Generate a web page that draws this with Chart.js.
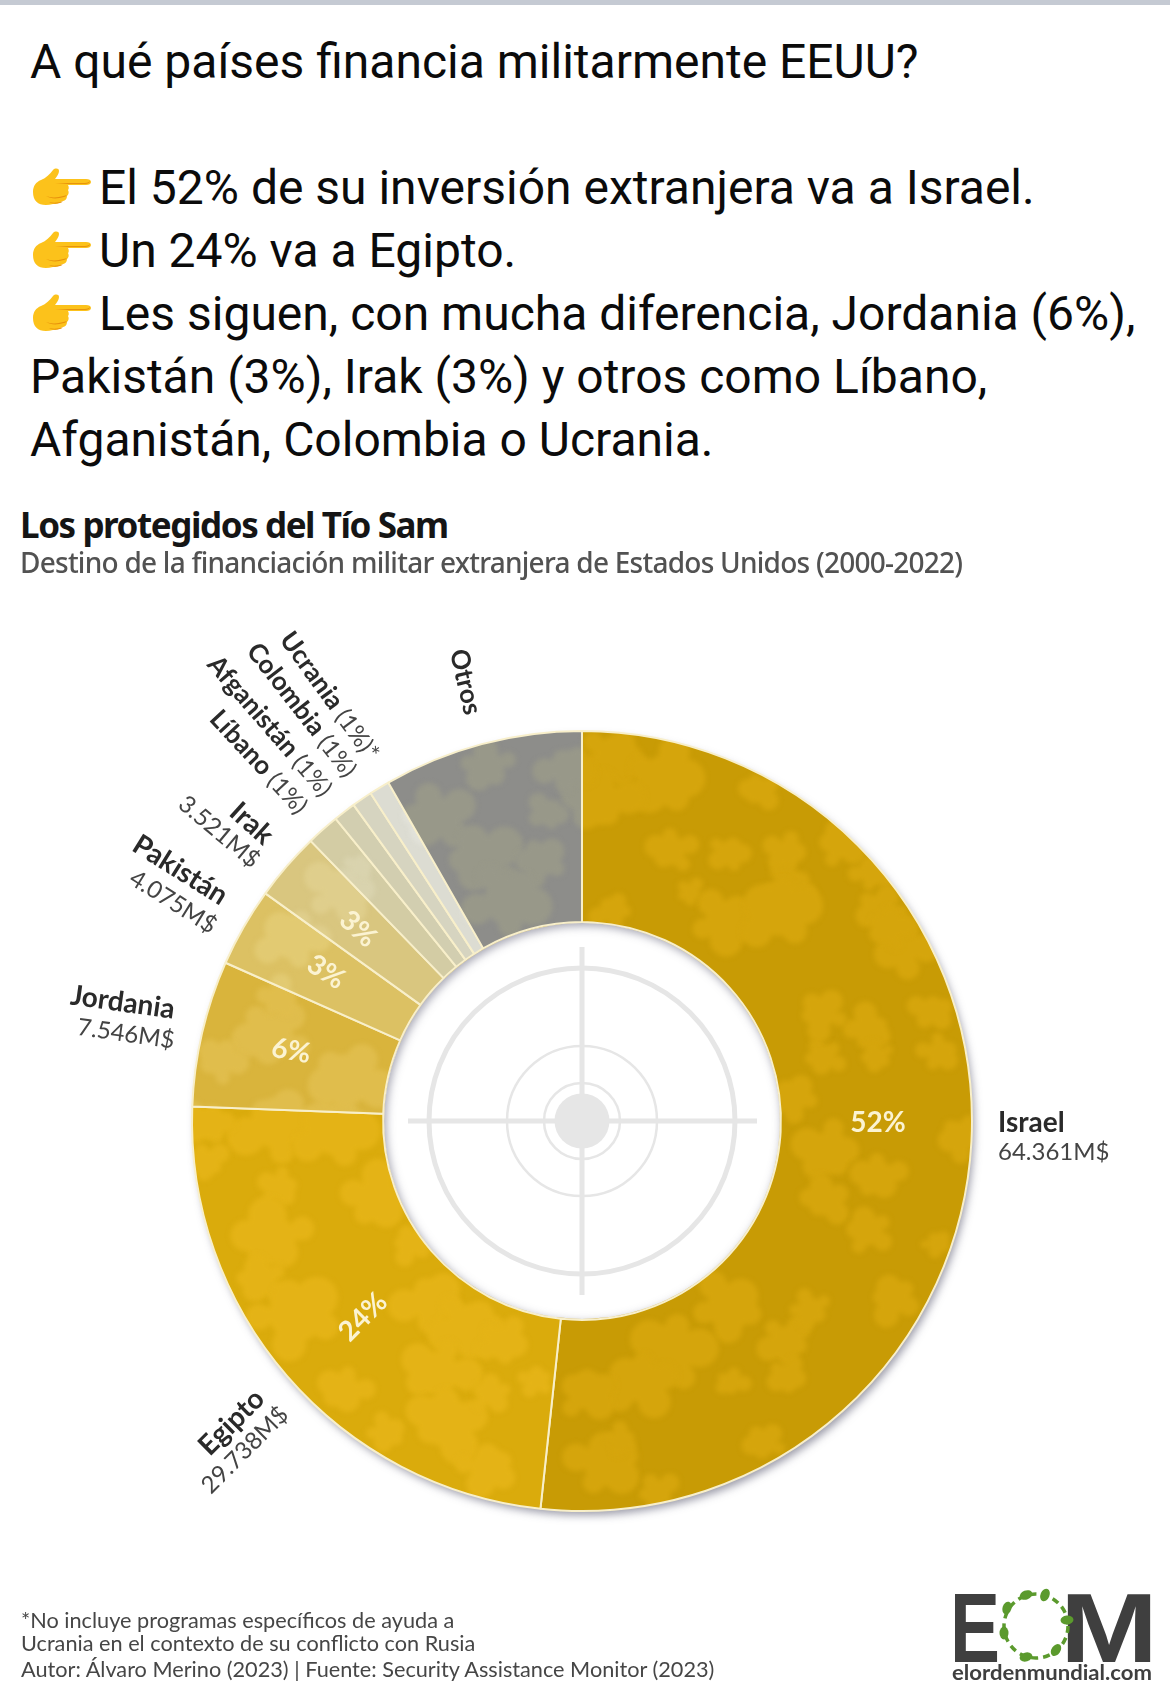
<!DOCTYPE html>
<html lang="es">
<head>
<meta charset="utf-8">
<title>Los protegidos del Tío Sam</title>
<script src="https://cdn.jsdelivr.net/npm/chart.js@4"></script>
<style>
  html, body { margin: 0; padding: 0; background: #fff; }
  #page { position: relative; width: 1170px; height: 1693px; overflow: hidden; }
  #topBar { position: absolute; left: 0; top: 0; width: 1170px; height: 5px; background: #c5cad3; }
  #donut { position: absolute; left: 0; top: 561px; }
  .post { position: absolute; font: 400 48px Roboto, sans-serif; color: #0b0b0b; white-space: nowrap; line-height: 60px; }
  .hand { position: absolute; left: 32px; width: 60px; height: 40px; }
  #title { position: absolute; left: 20px; top: 501px; font: 700 35px "Noto Sans", sans-serif; letter-spacing: -1.43px; color: #151515; white-space: nowrap; }
  #subtitle { position: absolute; left: 20px; top: 543px; font: 500 28px "Noto Sans", sans-serif; letter-spacing: -0.75px; color: #525252; white-space: nowrap; }
  .foot { position: absolute; left: 21px; font: 400 21.7px Lato, sans-serif; color: #464646; white-space: nowrap; }
  #logo { position: absolute; left: 945px; top: 1585px; }
</style>
</head>
<body>
<div id="page">
  <div id="topBar"></div>
  <canvas id="donut" width="1164" height="1120"></canvas>
  <div id="title">Los protegidos del Tío Sam</div>
  <div id="subtitle">Destino de la financiación militar extranjera de Estados Unidos (2000-2022)</div>
  <svg id="logo" width="215" height="105" viewBox="945 1585 215 105"></svg>
</div>
<script>
// Data
const categories = ["Israel", "Egipto", "Jordania", "Pakistán", "Irak", "Líbano", "Afganistán", "Colombia", "Ucrania", "Otros"];
const amounts = [64361, 29738, 7546, 4075, 3521, 1700, 1150, 1050, 1050, 10300]; // M$, the small ones are estimated from the slice angle
const amountLabels = ["64.361M$", "29.738M$", "7.546M$", "4.075M$", "3.521M$", "", "", "", "", ""];
const shareNotes = ["", "", "", "", "", "(1%)", "(1%)", "(1%)", "(1%)*", ""];
const ringLabels = ["52%", "24%", "6%", "3%", "3%", "", "", "", "", ""];
const baseColors = ["#c89b05", "#daab0c", "#d9b43c", "#dcc163", "#d9c67f", "#d3cca4", "#d2ceb0", "#d6d4c0", "#dcdcd2", "#8d8d8a"];
const lightColors = ["#d5a50c", "#e4b316", "#e0bd4c", "#e2ca72", "#dfce8c", "#d9d3ae", "#d8d5b9", "#dcdbc8", "#e2e2da", "#989889"];

const postLines = [
  { text: "A qué países financia militarmente EEUU?", left: 30, base: 78 },
  { text: "El 52% de su inversión extranjera va a Israel.", left: 99, base: 204, hand: true },
  { text: "Un 24% va a Egipto.", left: 99, base: 267, hand: true },
  { text: "Les siguen, con mucha diferencia, Jordania (6%),", left: 99, base: 330, hand: true },
  { text: "Pakistán (3%), Irak (3%) y otros como Líbano,", left: 30, base: 393 },
  { text: "Afganistán, Colombia o Ucrania.", left: 30, base: 456 }
];
const footLines = [
  { text: "*No incluye programas específicos de ayuda a", top: 1607 },
  { text: "Ucrania en el contexto de su conflicto con Rusia", top: 1630 },
  { text: "Autor: Álvaro Merino (2023) | Fuente: Security Assistance Monitor (2023)", top: 1656 }
];

// Where the texts go, relative to the centre of the ring (dx, dy, rotation in degrees)
const nameSpots = [[416, 2, 0], [-348, 299, -45], [-456, -118, 8], [-399, -249, 32], [-328, -295, 42],
  [-323, -359, 47], [-312, -395, 49], [-280, -411, 52], [-252, -425, 54], [-116, -436, 77]];
const nameSizes = [28, 28, 28, 28, 28, 26, 26, 26, 26, 26];
const amountSpots = [[416, 31, 0], [-337, 329, -45], [-456, -87, 8], [-409, -219, 32], [-363, -289, 40]];
const ringSpots = [[296, 2, 0], [-219, 196, -45], [-291, -70, 10], [-256, -149, 33], [-224, -192, 43]];

// Camouflage patches, [x, y, r] in page pixels
const camoPatches = [
  [617,757,17],[667,780,20],[600,803,17],[670,850,12],[757,790,10],[840,843,12],[873,873,10],[793,887,13],[727,923,17],
  [690,893,7],[880,910,12],[900,947,15],[887,927,12],[780,910,20],[933,1010,10],[940,1053,10],[870,1030,12],[877,1057,8],
  [823,1057,10],[820,1013,12],[793,1097,12],[613,910,10],[730,853,10],[787,853,10],
  [830,1153,17],[877,1177,13],[823,1200,12],[867,1230,12],[893,1297,13],[937,1243,7],[730,1307,18],[787,1343,13],[787,1377,10],
  [730,1383,8],[670,1350,20],[640,1380,17],[587,1390,15],[607,1463,18],[623,1440,8],[810,1310,10],[657,1493,10],[763,1443,10],[960,1137,12],
  [277,1123,20],[337,1130,20],[210,1123,13],[280,1187,10],[377,1200,17],[270,1240,20],[260,1280,13],[410,1243,10],[297,1313,22],
  [433,1300,17],[470,1327,18],[503,1343,13],[437,1373,17],[343,1390,13],[443,1420,20],[490,1393,10],[537,1380,8],[490,1467,15],[387,1433,10],[207,1163,10],
  [270,1036,18],[345,1080,20],[220,1060,12],[293,937,17],[343,890,16],[360,867,7],[280,1000,11],
  [487,767,13],[433,817,17],[480,860,20],[540,860,13],[567,767,13],[510,900,20],[550,813,10]
];

const ringRadius = 390;

// Paint one slice's colours and the patches into a pattern the size of the canvas.
// Every patch is a body with a few lobes, so it reads as camouflage and not as dots.
function camoPattern(chartCtx, base, light) {
  const tile = document.createElement("canvas");
  tile.width = chartCtx.canvas.width;
  tile.height = chartCtx.canvas.height;
  const t = tile.getContext("2d");
  t.fillStyle = base;
  t.fillRect(0, 0, tile.width, tile.height);
  t.filter = "blur(2.5px)";
  t.fillStyle = light;
  camoPatches.forEach((p, i) => {
    const cy = p[1] - 561;
    t.beginPath();
    t.moveTo(p[0] + p[2] * 1.3, cy);
    t.arc(p[0], cy, p[2] * 1.3, 0, Math.PI * 2);
    for (let k = 0; k < 5; k++) {
      const a = i * 2.4 + k * 1.26;
      const d = p[2] * (0.8 + 0.22 * ((i + k) % 4));
      const r = p[2] * (0.6 + 0.18 * ((i * 2 + k) % 3));
      const lx = p[0] + Math.cos(a) * d * 1.2;
      const ly = cy + Math.sin(a) * d;
      t.moveTo(lx + r, ly);
      t.arc(lx, ly, r, 0, Math.PI * 2);
    }
    t.fill("nonzero");
  });
  return chartCtx.createPattern(tile, "no-repeat");
}

// Shadow under the ring
const ringShadow = {
  id: "ringShadow",
  beforeDatasetsDraw(chart) {
    const arc = chart.getDatasetMeta(0).data[0];
    const ctx = chart.ctx;
    ctx.save();
    ctx.shadowColor = "rgba(70,70,95,0.55)";
    ctx.shadowBlur = 9;
    ctx.shadowOffsetX = 3;
    ctx.shadowOffsetY = 5;
    ctx.fillStyle = "#c89b05";
    ctx.beginPath();
    ctx.arc(arc.x, arc.y, arc.outerRadius - 1, 0, Math.PI * 2);
    ctx.fill();
    ctx.restore();
  }
};

// White hole with its inner shadow and the grey target
const target = {
  id: "target",
  afterDatasetsDraw(chart) {
    const arc = chart.getDatasetMeta(0).data[0];
    const ctx = chart.ctx;
    const hole = arc.innerRadius - 1;
    ctx.save();
    ctx.fillStyle = "#fff";
    ctx.beginPath();
    ctx.arc(arc.x, arc.y, hole, 0, Math.PI * 2);
    ctx.fill();
    ctx.clip();
    ctx.shadowColor = "rgba(80,80,105,0.5)";
    ctx.shadowBlur = 9;
    ctx.shadowOffsetX = 2;
    ctx.shadowOffsetY = 3;
    ctx.strokeStyle = "#fff";
    ctx.lineWidth = 12;
    ctx.beginPath();
    ctx.arc(arc.x, arc.y, hole + 6, 0, Math.PI * 2);
    ctx.stroke();
    ctx.restore();

    ctx.save();
    ctx.strokeStyle = "#e6e6e6";
    [[153, 5], [75, 2.5], [38, 2.5]].forEach(r => {
      ctx.lineWidth = r[1];
      ctx.beginPath();
      ctx.arc(arc.x, arc.y, r[0], 0, Math.PI * 2);
      ctx.stroke();
    });
    ctx.lineWidth = 5;
    ctx.beginPath();
    ctx.moveTo(arc.x - 174, arc.y);
    ctx.lineTo(arc.x + 175, arc.y);
    ctx.moveTo(arc.x, arc.y - 174);
    ctx.lineTo(arc.x, arc.y + 174);
    ctx.stroke();
    ctx.fillStyle = "#e6e6e6";
    ctx.beginPath();
    ctx.arc(arc.x, arc.y, 27.5, 0, Math.PI * 2);
    ctx.fill();
    ctx.restore();
  }
};

function turnedText(ctx, x, y, deg, draw) {
  ctx.save();
  ctx.translate(x, y);
  ctx.rotate(deg * Math.PI / 180);
  draw();
  ctx.restore();
}

// Names, amounts and the percentages inside the ring
const sliceLabels = {
  id: "sliceLabels",
  afterDraw(chart) {
    const arc = chart.getDatasetMeta(0).data[0];
    const ctx = chart.ctx;
    ctx.textBaseline = "middle";
    categories.forEach((name, i) => {
      const s = nameSpots[i];
      const nameFont = "700 " + nameSizes[i] + "px Lato, sans-serif";
      turnedText(ctx, arc.x + s[0], arc.y + s[1], s[2], () => {
        const note = shareNotes[i];
        ctx.font = nameFont;
        const nameW = ctx.measureText(name + " ").width;
        ctx.font = "400 24px Lato, sans-serif";
        const noteW = note ? ctx.measureText(note).width : 0;
        const startX = i === 0 ? 0 : -(nameW + noteW) / 2;
        ctx.textAlign = "left";
        ctx.fillStyle = "#2a2a2a";
        ctx.font = nameFont;
        ctx.fillText(name, startX, 0);
        if (note) {
          ctx.fillStyle = "#444";
          ctx.font = "400 24px Lato, sans-serif";
          ctx.fillText(note, startX + nameW, 1);
        }
      });
      if (amountLabels[i]) {
        const a = amountSpots[i];
        turnedText(ctx, arc.x + a[0], arc.y + a[1], a[2], () => {
          ctx.textAlign = i === 0 ? "left" : "center";
          ctx.fillStyle = "#444";
          ctx.font = "400 24px Lato, sans-serif";
          ctx.fillText(amountLabels[i], 0, 0);
        });
      }
      if (ringLabels[i]) {
        const r = ringSpots[i];
        turnedText(ctx, arc.x + r[0], arc.y + r[1], r[2], () => {
          ctx.textAlign = "center";
          ctx.fillStyle = "#fbf3d2";
          ctx.font = "700 28px Lato, sans-serif";
          ctx.fillText(ringLabels[i], 0, 0);
        });
      }
    });
  }
};

// Post text above the chart
const page = document.getElementById("page");
const handSvg = '<svg class="hand" viewBox="0 0 60 40" style="top:TOPpx">' +
  '<path d="M1 24c0-6 3-10 8-12 5-2 9-6 12-10 2-2 6-2 6 1 0 3-2 5-4 8h31c3 0 5 1 5 3s-2 3-5 3H36c1 2 1 4 0 5 1 2 1 4-1 6 0 3-2 5-5 5-2 2-5 3-9 3C9 39 1 35 1 24z" fill="#fcc21b"/>' +
  '<path d="M23 15h30c2 0 4-1 5-2 0 2-2 3-5 3H36l-13-1zM14 28c5 2 12 2 21-1-1 1-2 2-3 2-7 2-13 2-18-1zM17 34c4 1 9 1 14-1-1 1-2 2-3 2-4 1-8 1-11-1z" fill="#e8930c"/></svg>';
postLines.forEach(line => {
  const el = document.createElement("div");
  el.className = "post";
  el.textContent = line.text;
  el.style.left = line.left + "px";
  el.style.top = (line.base - 46) + "px";
  page.appendChild(el);
  if (line.hand) {
    page.insertAdjacentHTML("beforeend", handSvg.replace("TOP", line.base - 36));
  }
});
footLines.forEach(line => {
  const el = document.createElement("div");
  el.className = "foot";
  el.textContent = line.text;
  el.style.top = line.top + "px";
  page.appendChild(el);
});

// Logo
const logoDots = [[1045,1595,0.4],[1067,1620,1.5],[1056,1650,0.6],[1026,1657,1.3],[1004,1633,0],[1007,1608,0.3],[1026,1595,1.2]];
let logo = '<text x="950" y="1662" font-family="Liberation Sans" font-weight="700" font-size="99" fill="#3f3f3f" textLength="50" lengthAdjust="spacingAndGlyphs">E</text>' +
  '<text x="1060" y="1662" font-family="Liberation Sans" font-weight="700" font-size="99" fill="#3f3f3f" textLength="98" lengthAdjust="spacingAndGlyphs">M</text>' +
  '<circle cx="1036" cy="1626" r="32" fill="none" stroke="#5b9a2d" stroke-width="3.5" stroke-dasharray="7 5"/>';
logoDots.forEach(d => {
  logo += '<ellipse cx="' + d[0] + '" cy="' + d[1] + '" rx="4.5" ry="6.5" fill="#5b9a2d" transform="rotate(' + (d[2] * 57) + ' ' + d[0] + ' ' + d[1] + ')"/>';
});
logo += '<text x="952" y="1680" font-family="Lato" font-weight="700" font-size="21" fill="#3f3f3f" textLength="200" lengthAdjust="spacingAndGlyphs">elordenmundial.com</text>';
document.getElementById("logo").innerHTML = logo;

// Draw chart
const canvas = document.getElementById("donut");
const ctx2d = canvas.getContext("2d");
new Chart(canvas, {
  type: "doughnut",
  data: {
    labels: categories,
    datasets: [{
      data: amounts,
      backgroundColor: baseColors.map((c, i) => camoPattern(ctx2d, c, lightColors[i])),
      borderColor: "#f8efca",
      borderWidth: 2
    }]
  },
  options: {
    responsive: false,
    animation: false,
    radius: ringRadius,
    cutout: "51%",
    plugins: { legend: { display: false }, tooltip: { enabled: false } }
  },
  plugins: [ringShadow, target, sliceLabels]
});
</script>
</body>
</html>
